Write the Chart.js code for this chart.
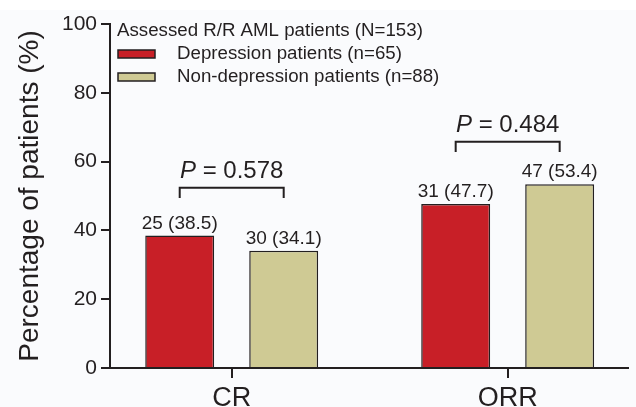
<!DOCTYPE html>
<html>
<head>
<meta charset="utf-8">
<script src="https://cdn.jsdelivr.net/npm/chart.js@4.4.1/dist/chart.umd.min.js"></script>
<style>
  html, body { margin: 0; padding: 0; background: #fff; }
  canvas { display: block; }
</style>
</head>
<body>
<canvas id="chart" width="636" height="407"></canvas>
<script>
// data
const categories = ['CR', 'ORR'];
const seriesNames = ['Depression patients (n=65)', 'Non-depression patients (n=88)'];
const depressionPct = [38.5, 47.7];
const depressionCount = [25, 31];
const nonDepressionPct = [34.1, 53.4];
const nonDepressionCount = [30, 47];
const pValues = ['0.578', '0.484'];
const legendTitle = 'Assessed R/R AML patients (N=153)';
const yTicks = [0, 20, 40, 60, 80, 100];

const FONT = "'Liberation Sans', Arial, Helvetica, sans-serif";
const INK = '#231f20';
const RED = '#c81f27';
const TAN = '#cfca94';

// bracket height and P label height, in % units
const bracketLevel = [52.4, 65.8];
const pTextLevel = [57.2, 70.4];

const toPoints = vals => vals.map((v, i) => ({ x: i, y: v }));

// page tint plus the category tick marks (drawn first, before anything can clip)
const background = {
    id: 'background',
    beforeDraw(chart) {
        const ctx = chart.ctx;
        const x = chart.scales.x;
        const area = chart.chartArea;
        ctx.save();
        ctx.fillStyle = '#fafbfd';
        ctx.fillRect(0, 10, chart.width, chart.height - 10);
        ctx.fillStyle = INK;
        categories.forEach((c, i) => {
            const px = Math.round(x.getPixelForValue(i));
            ctx.fillRect(px - 1, area.bottom, 2, 10);
        });
        ctx.restore();
    }
};

const annotate = {
    id: 'annotate',
    afterDraw(chart) {
        const ctx = chart.ctx;
        const y = chart.scales.y;
        const metas = [chart.getDatasetMeta(0), chart.getDatasetMeta(1)];
        const counts = [depressionCount, nonDepressionCount];
        ctx.save();
        ctx.fillStyle = INK;
        ctx.textAlign = 'center';
        ctx.textBaseline = 'alphabetic';
        ctx.font = '19px ' + FONT;
        metas.forEach((meta, d) => {
            meta.data.forEach((bar, i) => {
                const v = chart.data.datasets[d].data[i].y;
                ctx.fillText(counts[d][i] + ' (' + v.toFixed(1) + ')', bar.x, bar.y - 7);
            });
        });

        ctx.strokeStyle = INK;
        ctx.lineWidth = 2;
        categories.forEach((c, i) => {
            const xa = metas[0].data[i].x;
            const xb = metas[1].data[i].x;
            const yl = y.getPixelForValue(bracketLevel[i]);
            const yd = y.getPixelForValue(bracketLevel[i] - 3);
            ctx.beginPath();
            ctx.moveTo(xa, yd);
            ctx.lineTo(xa, yl);
            ctx.lineTo(xb, yl);
            ctx.lineTo(xb, yd);
            ctx.stroke();

            const ty = y.getPixelForValue(pTextLevel[i]);
            const rest = ' = ' + pValues[i];
            ctx.font = 'italic 24px ' + FONT;
            const wP = ctx.measureText('P').width;
            ctx.font = '24px ' + FONT;
            const wR = ctx.measureText(rest).width;
            const x0 = (xa + xb) / 2 - (wP + wR) / 2;
            ctx.textAlign = 'left';
            ctx.textBaseline = 'middle';
            ctx.font = 'italic 24px ' + FONT;
            ctx.fillText('P', x0, ty);
            ctx.font = '24px ' + FONT;
            ctx.fillText(rest, x0 + wP, ty);
        });
        ctx.restore();
    }
};

const legendBox = {
    id: 'legendBox',
    afterDraw(chart) {
        const ctx = chart.ctx;
        const area = chart.chartArea;
        const x = area.left + 7;
        ctx.save();
        ctx.font = '18.7px ' + FONT;
        ctx.fillStyle = INK;
        ctx.textAlign = 'left';
        ctx.textBaseline = 'middle';
        ctx.fillText(legendTitle, x, area.top + 7);
        chart.data.datasets.forEach((ds, i) => {
            const cy = area.top + 30 + i * 23;
            ctx.fillStyle = ds.backgroundColor;
            ctx.fillRect(x + 1, cy - 4, 37, 8);
            ctx.strokeStyle = INK;
            ctx.lineWidth = 1.5;
            ctx.strokeRect(x + 1, cy - 4, 37, 8);
            ctx.fillStyle = INK;
            ctx.fillText(ds.label, x + 60, cy);
        });
        ctx.restore();
    }
};

new Chart(document.getElementById('chart'), {
    type: 'bar',
    data: {
        datasets: [
            {
                label: seriesNames[0],
                data: toPoints(depressionPct),
                backgroundColor: RED,
                borderColor: INK,
                borderWidth: 1.5
            },
            {
                label: seriesNames[1],
                data: toPoints(nonDepressionPct),
                backgroundColor: TAN,
                borderColor: INK,
                borderWidth: 1.5
            }
        ]
    },
    options: {
        responsive: false,
        animation: false,
        devicePixelRatio: 1,
        categoryPercentage: 0.7536,
        barPercentage: 0.663,
        layout: { padding: { top: 24, right: 8, left: 0, bottom: 0 } },
        plugins: {
            legend: { display: false },
            tooltip: { enabled: false }
        },
        scales: {
            x: {
                type: 'linear',
                offset: false,
                min: -0.441,
                max: 1.436,
                afterBuildTicks: scale => { scale.ticks = categories.map((c, i) => ({ value: i })); },
                afterFit: scale => { scale.height = 39; },
                ticks: {
                    callback: v => categories[v],
                    font: { family: FONT, size: 27 },
                    color: INK,
                    padding: 6,
                    autoSkip: false,
                    maxRotation: 0
                },
                grid: { offset: false, drawOnChartArea: false, tickLength: 8, color: INK, lineWidth: 2 },
                border: { color: INK, width: 2 }
            },
            y: {
                min: 0,
                max: 100,
                afterBuildTicks: scale => { scale.ticks = yTicks.map(v => ({ value: v })); },
                afterFit: scale => { scale.width = 110; },
                ticks: { font: { family: FONT, size: 21 }, color: INK, padding: 4 },
                grid: { drawOnChartArea: false, tickLength: 9, color: INK, lineWidth: 2 },
                border: { color: INK, width: 2 },
                title: {
                    display: true,
                    text: 'Percentage of patients (%)',
                    font: { family: FONT, size: 28 },
                    color: INK,
                    padding: { top: 13, bottom: 0 }
                }
            }
        }
    },
    plugins: [background, annotate, legendBox]
});
</script>
</body>
</html>
